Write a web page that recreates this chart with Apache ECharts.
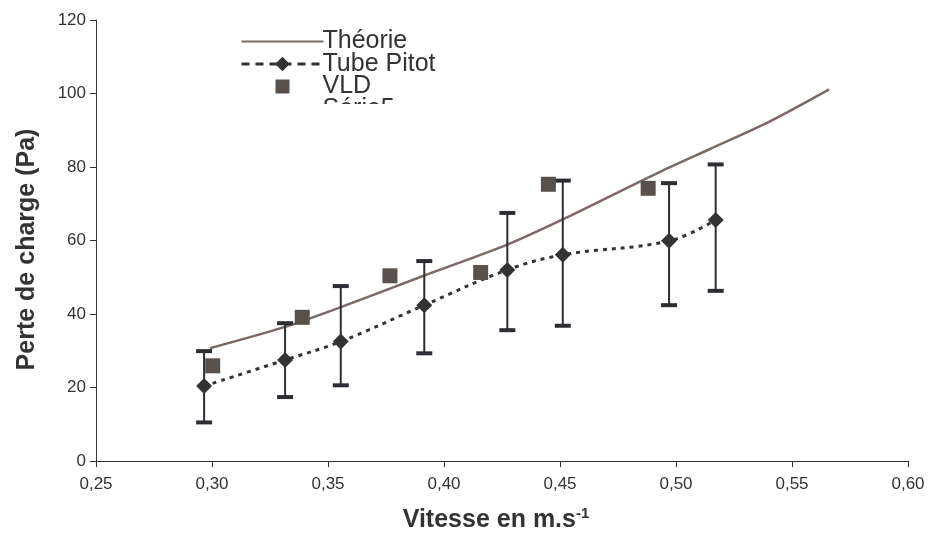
<!DOCTYPE html>
<html>
<head>
<meta charset="utf-8">
<script src="https://cdn.jsdelivr.net/npm/echarts@6/dist/echarts.min.js"></script>
<style>
  html, body { margin: 0; padding: 0; background: #fff; }
  #chart { width: 929px; height: 547px; }
</style>
</head>
<body>
<div id="chart"></div>
<script>
// Théorie (courbe calculée)
const theoryX = [0.2991, 0.3315, 0.3544, 0.3904, 0.427, 0.4507, 0.4931, 0.5147, 0.5405, 0.566]
const theoryY = [30.7, 36.5, 41.6, 50.2, 58.8, 65.6, 78.7, 84.9, 92.4, 101.1]
// Tube Pitot (moyenne + barres d'erreur)
const pitotX = [0.2966, 0.3315, 0.3555, 0.3915, 0.4273, 0.4512, 0.497, 0.5171]
const pitotY = [20.4, 27.5, 32.5, 42.4, 52.0, 56.1, 59.9, 65.6]
const pitotLow = [10.5, 17.4, 20.6, 29.3, 35.6, 36.8, 42.4, 46.3]
const pitotHigh = [29.9, 37.5, 47.6, 54.4, 67.5, 76.3, 75.6, 80.7]
// VLD
const vldX = [0.3003, 0.3389, 0.3767, 0.4158, 0.445, 0.488]
const vldY = [25.9, 39.1, 50.4, 51.3, 75.3, 74.2]
// axes
const xTicks = [0.25, 0.30, 0.35, 0.40, 0.45, 0.50, 0.55, 0.60]
const yTicks = [0, 20, 40, 60, 80, 100, 120]

const chart = echarts.init(document.getElementById('chart'))
const font = 'Liberation Sans, Arial, sans-serif'
const axisColor = '#333'
const barColor = '#2e2d33'

const option = {
  animation: false,
  backgroundColor: '#fff',
  textStyle: { fontFamily: font },
  grid: { left: 96, right: 21, top: 20, bottom: 86 },
  legend: {
    orient: 'vertical',
    left: 235,
    top: 24,
    itemWidth: 82,
    itemHeight: 18,
    itemGap: -2.5,
    textStyle: { fontSize: 25, color: '#333', padding: [0, 0, 0, -6] },
    data: [
      { name: 'Théorie', itemStyle: { opacity: 0 } },
      { name: 'Tube Pitot', lineStyle: { type: [8, 6], width: 3 } },
      { name: 'VLD', icon: 'path://M0,0M18,18M2,2H16V16H2Z' },
      { name: 'Série5', itemStyle: { opacity: 0 }, lineStyle: { opacity: 0 } }
    ]
  },
  graphic: [
    // the last legend entry is clipped in the original
    { type: 'rect', left: 300, top: 104, shape: { width: 140, height: 26 }, style: { fill: '#fff' }, z: 100 }
  ],
  xAxis: {
    type: 'value',
    min: xTicks[0],
    max: xTicks[xTicks.length - 1],
    interval: 0.05,
    name: '{a|Vitesse en m.s}{b|-1}',
    nameLocation: 'middle',
    nameGap: 45,
    nameTextStyle: {
      padding: [0, 12, 0, 0],
      rich: {
        a: { fontSize: 25, fontWeight: 'bold', color: '#333', fontFamily: font },
        b: { fontSize: 15, fontWeight: 'bold', color: '#333', fontFamily: font, verticalAlign: 'top', padding: [0, 0, 14, 0] }
      }
    },
    axisLine: { lineStyle: { color: axisColor, width: 1 } },
    axisTick: { length: 6, lineStyle: { color: axisColor } },
    axisLabel: {
      fontSize: 17,
      color: '#333',
      margin: 15,
      formatter: v => v.toFixed(2).replace('.', ',')
    },
    splitLine: { show: false }
  },
  yAxis: {
    type: 'value',
    min: yTicks[0],
    max: yTicks[yTicks.length - 1],
    interval: 20,
    name: 'Perte de charge (Pa)',
    nameLocation: 'middle',
    nameGap: 56,
    nameRotate: 90,
    nameTextStyle: { fontSize: 25, fontWeight: 'bold', color: '#333', padding: [0, 18, 0, 0] },
    axisLine: { show: true, lineStyle: { color: axisColor, width: 1 } },
    axisTick: { show: true, length: 6, lineStyle: { color: axisColor } },
    axisLabel: { fontSize: 17, color: '#333', margin: 10 },
    splitLine: { show: false }
  },
  series: [
    {
      name: 'Théorie',
      type: 'line',
      smooth: 0.3,
      symbol: 'none',
      lineStyle: { color: '#7a6a66', width: 2.5 },
      itemStyle: { color: '#7a6a66' },
      data: theoryX.map((x, i) => [x, theoryY[i]]),
      z: 2
    },
    {
      name: 'Série5',
      type: 'custom',
      renderItem: function (params, api) {
        const x = api.value(0)
        const lo = api.coord([x, api.value(1)])
        const hi = api.coord([x, api.value(2)])
        const cap = 8
        return {
          type: 'group',
          children: [
            { type: 'line', shape: { x1: lo[0], y1: lo[1], x2: hi[0], y2: hi[1] }, style: { stroke: barColor, lineWidth: 2 } },
            { type: 'line', shape: { x1: lo[0] - cap, y1: lo[1], x2: lo[0] + cap, y2: lo[1] }, style: { stroke: barColor, lineWidth: 4 } },
            { type: 'line', shape: { x1: hi[0] - cap, y1: hi[1], x2: hi[0] + cap, y2: hi[1] }, style: { stroke: barColor, lineWidth: 4 } }
          ]
        }
      },
      itemStyle: { color: '#fff', opacity: 0 },
      encode: { x: 0, y: [1, 2] },
      data: pitotX.map((x, i) => [x, pitotLow[i], pitotHigh[i]]),
      z: 3
    },
    {
      name: 'Tube Pitot',
      type: 'line',
      smooth: 0.4,
      symbol: 'diamond',
      symbolSize: [16, 16],
      lineStyle: { color: '#333', width: 3, type: [4, 5] },
      itemStyle: { color: '#333' },
      data: pitotX.map((x, i) => [x, pitotY[i]]),
      z: 4
    },
    {
      name: 'VLD',
      type: 'scatter',
      symbol: 'rect',
      symbolSize: 15,
      itemStyle: { color: '#5a504c', opacity: 1 },
      data: vldX.map((x, i) => [x, vldY[i]]),
      z: 5
    }
  ]
}

chart.setOption(option)
</script>
</body>
</html>
